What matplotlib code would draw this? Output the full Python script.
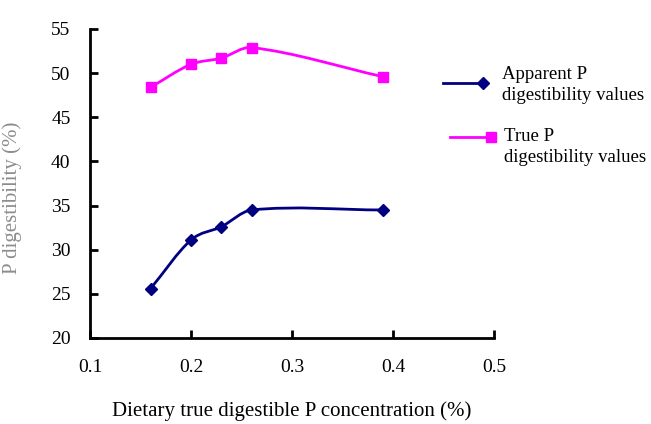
import matplotlib
matplotlib.use("Agg")
import matplotlib.pyplot as plt
from matplotlib.path import Path
from matplotlib.patches import PathPatch
from matplotlib.lines import Line2D
import numpy as np

# data
p_conc = [0.16, 0.20, 0.23, 0.26, 0.39]
apparent = [25.6, 31.1, 32.6, 34.5, 34.5]
true_p = [48.4, 51.0, 51.7, 52.9, 49.6]

plt.rcParams['font.family'] = ['Liberation Serif', 'DejaVu Serif']

BLUE = '#000080'
PINK = '#FF00FF'


def smooth_path(xs, ys):
    # smoothed line like the spreadsheet one: cubic bezier (hermite in x)
    x = np.asarray(xs, float)
    y = np.asarray(ys, float)
    n = len(x)
    m = np.zeros(n)
    for i in range(n):
        a = max(i - 1, 0)
        b = min(i + 1, n - 1)
        m[i] = (y[b] - y[a]) / (x[b] - x[a])
    verts = [(x[0], y[0])]
    codes = [Path.MOVETO]
    for i in range(n - 1):
        h = (x[i + 1] - x[i]) / 3.0
        verts += [(x[i] + h, y[i] + m[i] * h),
                  (x[i + 1] - h, y[i + 1] - m[i + 1] * h),
                  (x[i + 1], y[i + 1])]
        codes += [Path.CURVE4] * 3
    return Path(verts, codes)


fig = plt.figure(figsize=(6.51, 4.24), dpi=100)
ax = fig.add_axes([90 / 651, 86 / 424, 404 / 651, 309 / 424])

for ys, col, mk, ms in [(apparent, BLUE, 'D', 6.5), (true_p, PINK, 's', 7.5)]:
    ax.add_patch(PathPatch(smooth_path(p_conc, ys), facecolor='none',
                           edgecolor=col, lw=2.0, zorder=2))
    ax.plot(p_conc, ys, ls='none', marker=mk, ms=ms, color=col, zorder=3)

ax.set_xlim(0.1, 0.5)
ax.set_ylim(20, 55)
ax.set_xticks([0.1, 0.2, 0.3, 0.4, 0.5])
ax.set_yticks(range(20, 56, 5))
ax.xaxis.set_major_formatter(plt.FuncFormatter(lambda v, p: '%.1f' % v))
for s in ['top', 'right']:
    ax.spines[s].set_visible(False)
for s in ['left', 'bottom']:
    ax.spines[s].set_linewidth(2)
ax.tick_params(direction='in', length=6, width=2, labelsize=14)
ax.tick_params(axis='x', pad=15)
ax.tick_params(axis='y', pad=14)
ax.set_facecolor('white')

ax.set_xlabel('Dietary true digestible P concentration (%)', fontsize=15)
ax.xaxis.set_label_coords(0.5, -0.205)
ax.set_ylabel('P digestibility (%)', fontsize=15, color='#8c8c8c')
ax.yaxis.set_label_coords(-0.168, 0.455)

# legend drawn by hand to keep the two-line layout
fig.add_artist(Line2D([443 / 651, 483 / 651], [1 - 83 / 424] * 2, color=BLUE, lw=2,
                      marker='D', ms=6.5, markevery=[1]))
fig.add_artist(Line2D([450 / 651, 491 / 651], [1 - 137 / 424] * 2, color=PINK, lw=2,
                      marker='s', ms=7.5, markevery=[1]))
fig.text(502 / 651, 1 - 85 / 424, 'Apparent P\ndigestibility values', fontsize=13.5,
         va='center', linespacing=1.38)
fig.text(504 / 651, 1 - 147 / 424, 'True P\ndigestibility values', fontsize=13.5,
         va='center', linespacing=1.38)

fig.savefig('out.png', dpi=100)
